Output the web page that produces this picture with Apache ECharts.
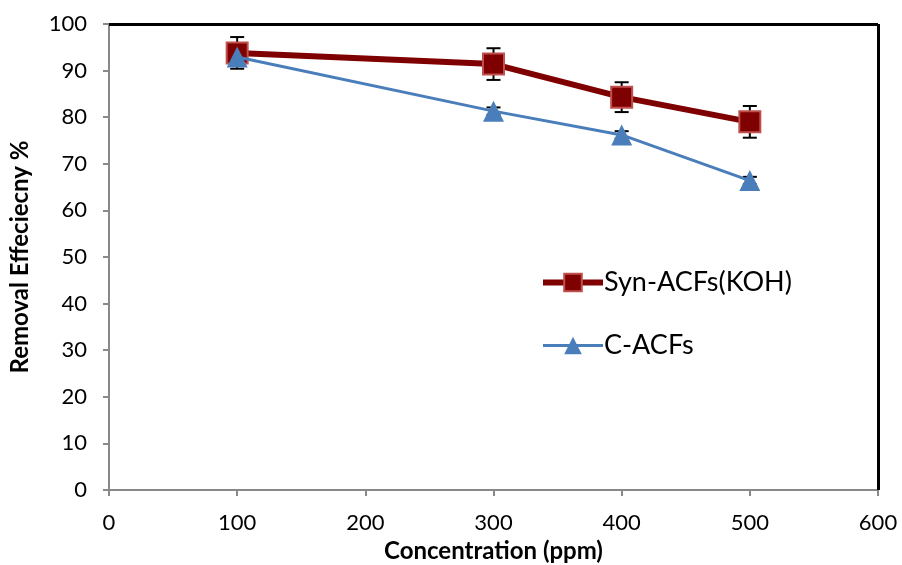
<!DOCTYPE html>
<html>
<head>
<meta charset="utf-8">
<script src="https://cdn.jsdelivr.net/npm/echarts@6/dist/echarts.min.js"></script>
<style>
  html, body { margin: 0; padding: 0; background: #fff; }
  #chart { width: 902px; height: 565px; }
</style>
</head>
<body>
<div id="chart"></div>
<script>
// Removal efficiency vs. initial concentration
const concentrations = [100, 300, 400, 500];
const synValues = [93.8, 91.4, 84.3, 79.0];
const synErrors = [3.4, 3.4, 3.2, 3.4];
const cValues = [92.9, 81.3, 76.2, 66.4];
const cErrors = [0.8, 0.8, 0.8, 0.8];
const xTicks = [0, 100, 200, 300, 400, 500, 600];
const yTicks = [0, 10, 20, 30, 40, 50, 60, 70, 80, 90, 100];

const FONT = 'Lato, "Open Sans", sans-serif';
const SYN_COLOR = '#7F0000';
const C_COLOR = '#4A7EBB';

function pairs(xs, ys) { return xs.map((x, i) => [x, ys[i]]); }
function errorData(xs, ys, es) { return xs.map((x, i) => [x, ys[i] - es[i], ys[i] + es[i]]); }

// whisker with caps, drawn in data coordinates
function errorBarRenderer(params, api) {
  const x = api.value(0);
  const lo = api.coord([x, api.value(1)]);
  const hi = api.coord([x, api.value(2)]);
  const cap = 7;
  const style = { stroke: '#000', lineWidth: 2 };
  return {
    type: 'group',
    children: [
      { type: 'line', shape: { x1: lo[0], y1: lo[1], x2: hi[0], y2: hi[1] }, style },
      { type: 'line', shape: { x1: hi[0] - cap, y1: hi[1], x2: hi[0] + cap, y2: hi[1] }, style },
      { type: 'line', shape: { x1: lo[0] - cap, y1: lo[1], x2: lo[0] + cap, y2: lo[1] }, style }
    ]
  };
}

const chart = echarts.init(document.getElementById('chart'));
chart.setOption({
  animation: false,
  backgroundColor: '#fff',
  textStyle: { fontFamily: FONT },
  grid: { left: 109, right: 24, top: 24, bottom: 75, containLabel: false, outerBoundsMode: 'none' },
  legend: {
    orient: 'vertical',
    left: 535,
    top: 264,
    itemGap: 36,
    itemWidth: 60,
    itemHeight: 22,
    data: [
      { name: 'Syn-ACFs(KOH)', lineStyle: { width: 6, color: SYN_COLOR } },
      { name: 'C-ACFs', lineStyle: { width: 3, color: C_COLOR } }
    ],
    textStyle: { fontFamily: FONT, fontSize: 27, color: '#000', padding: [0, 0, 0, -4] }
  },
  xAxis: {
    type: 'value',
    min: xTicks[0],
    max: xTicks[xTicks.length - 1],
    interval: 100,
    name: 'Concentration (ppm)',
    nameLocation: 'middle',
    nameGap: 49,
    nameTextStyle: { fontFamily: FONT, fontSize: 24, fontWeight: 'bold', color: '#000' },
    axisLine: { show: true, lineStyle: { color: '#898989', width: 2 } },
    axisTick: { show: true, length: 6, lineStyle: { color: '#898989', width: 2 } },
    axisLabel: { fontFamily: FONT, fontSize: 22, color: '#000', margin: 22 },
    splitLine: { show: false }
  },
  yAxis: {
    type: 'value',
    min: yTicks[0],
    max: yTicks[yTicks.length - 1],
    interval: 10,
    name: 'Removal Effeciecny %',
    nameLocation: 'middle',
    nameGap: 77,
    nameTextStyle: { fontFamily: FONT, fontSize: 24, fontWeight: 'bold', color: '#000' },
    axisLine: { show: true, lineStyle: { color: '#898989', width: 2 } },
    axisTick: { show: true, length: 6, lineStyle: { color: '#898989', width: 2 } },
    axisLabel: { fontFamily: FONT, fontSize: 22, color: '#000', margin: 22 },
    splitLine: { show: false }
  },
  series: [
    // top and right frame of the plot area
    {
      type: 'line',
      silent: true,
      symbol: 'none',
      data: [],
      markLine: {
        silent: true,
        symbol: 'none',
        label: { show: false },
        lineStyle: { color: '#000', width: 3, type: 'solid' },
        data: [
          [{ coord: [xTicks[0], 100] }, { coord: [xTicks[xTicks.length - 1], 100] }],
          [{ coord: [xTicks[xTicks.length - 1], 0] }, { coord: [xTicks[xTicks.length - 1], 100] }]
        ]
      }
    },
    {
      name: 'C-ACFs',
      type: 'line',
      data: pairs(concentrations, cValues),
      symbol: 'triangle',
      symbolSize: 21,
      lineStyle: { color: C_COLOR, width: 3 },
      itemStyle: { color: C_COLOR },
      z: 3
    },
    {
      type: 'custom',
      data: errorData(concentrations, cValues, cErrors),
      renderItem: errorBarRenderer,
      z: 2
    },
    {
      name: 'Syn-ACFs(KOH)',
      type: 'line',
      data: pairs(concentrations, synValues),
      symbol: 'rect',
      symbolSize: 21,
      lineStyle: { color: SYN_COLOR, width: 6 },
      itemStyle: { color: SYN_COLOR, borderColor: '#C0504D', borderWidth: 2 },
      z: 2
    },
    {
      type: 'custom',
      data: errorData(concentrations, synValues, synErrors),
      renderItem: errorBarRenderer,
      z: 1
    }
  ]
});
</script>
</body>
</html>
